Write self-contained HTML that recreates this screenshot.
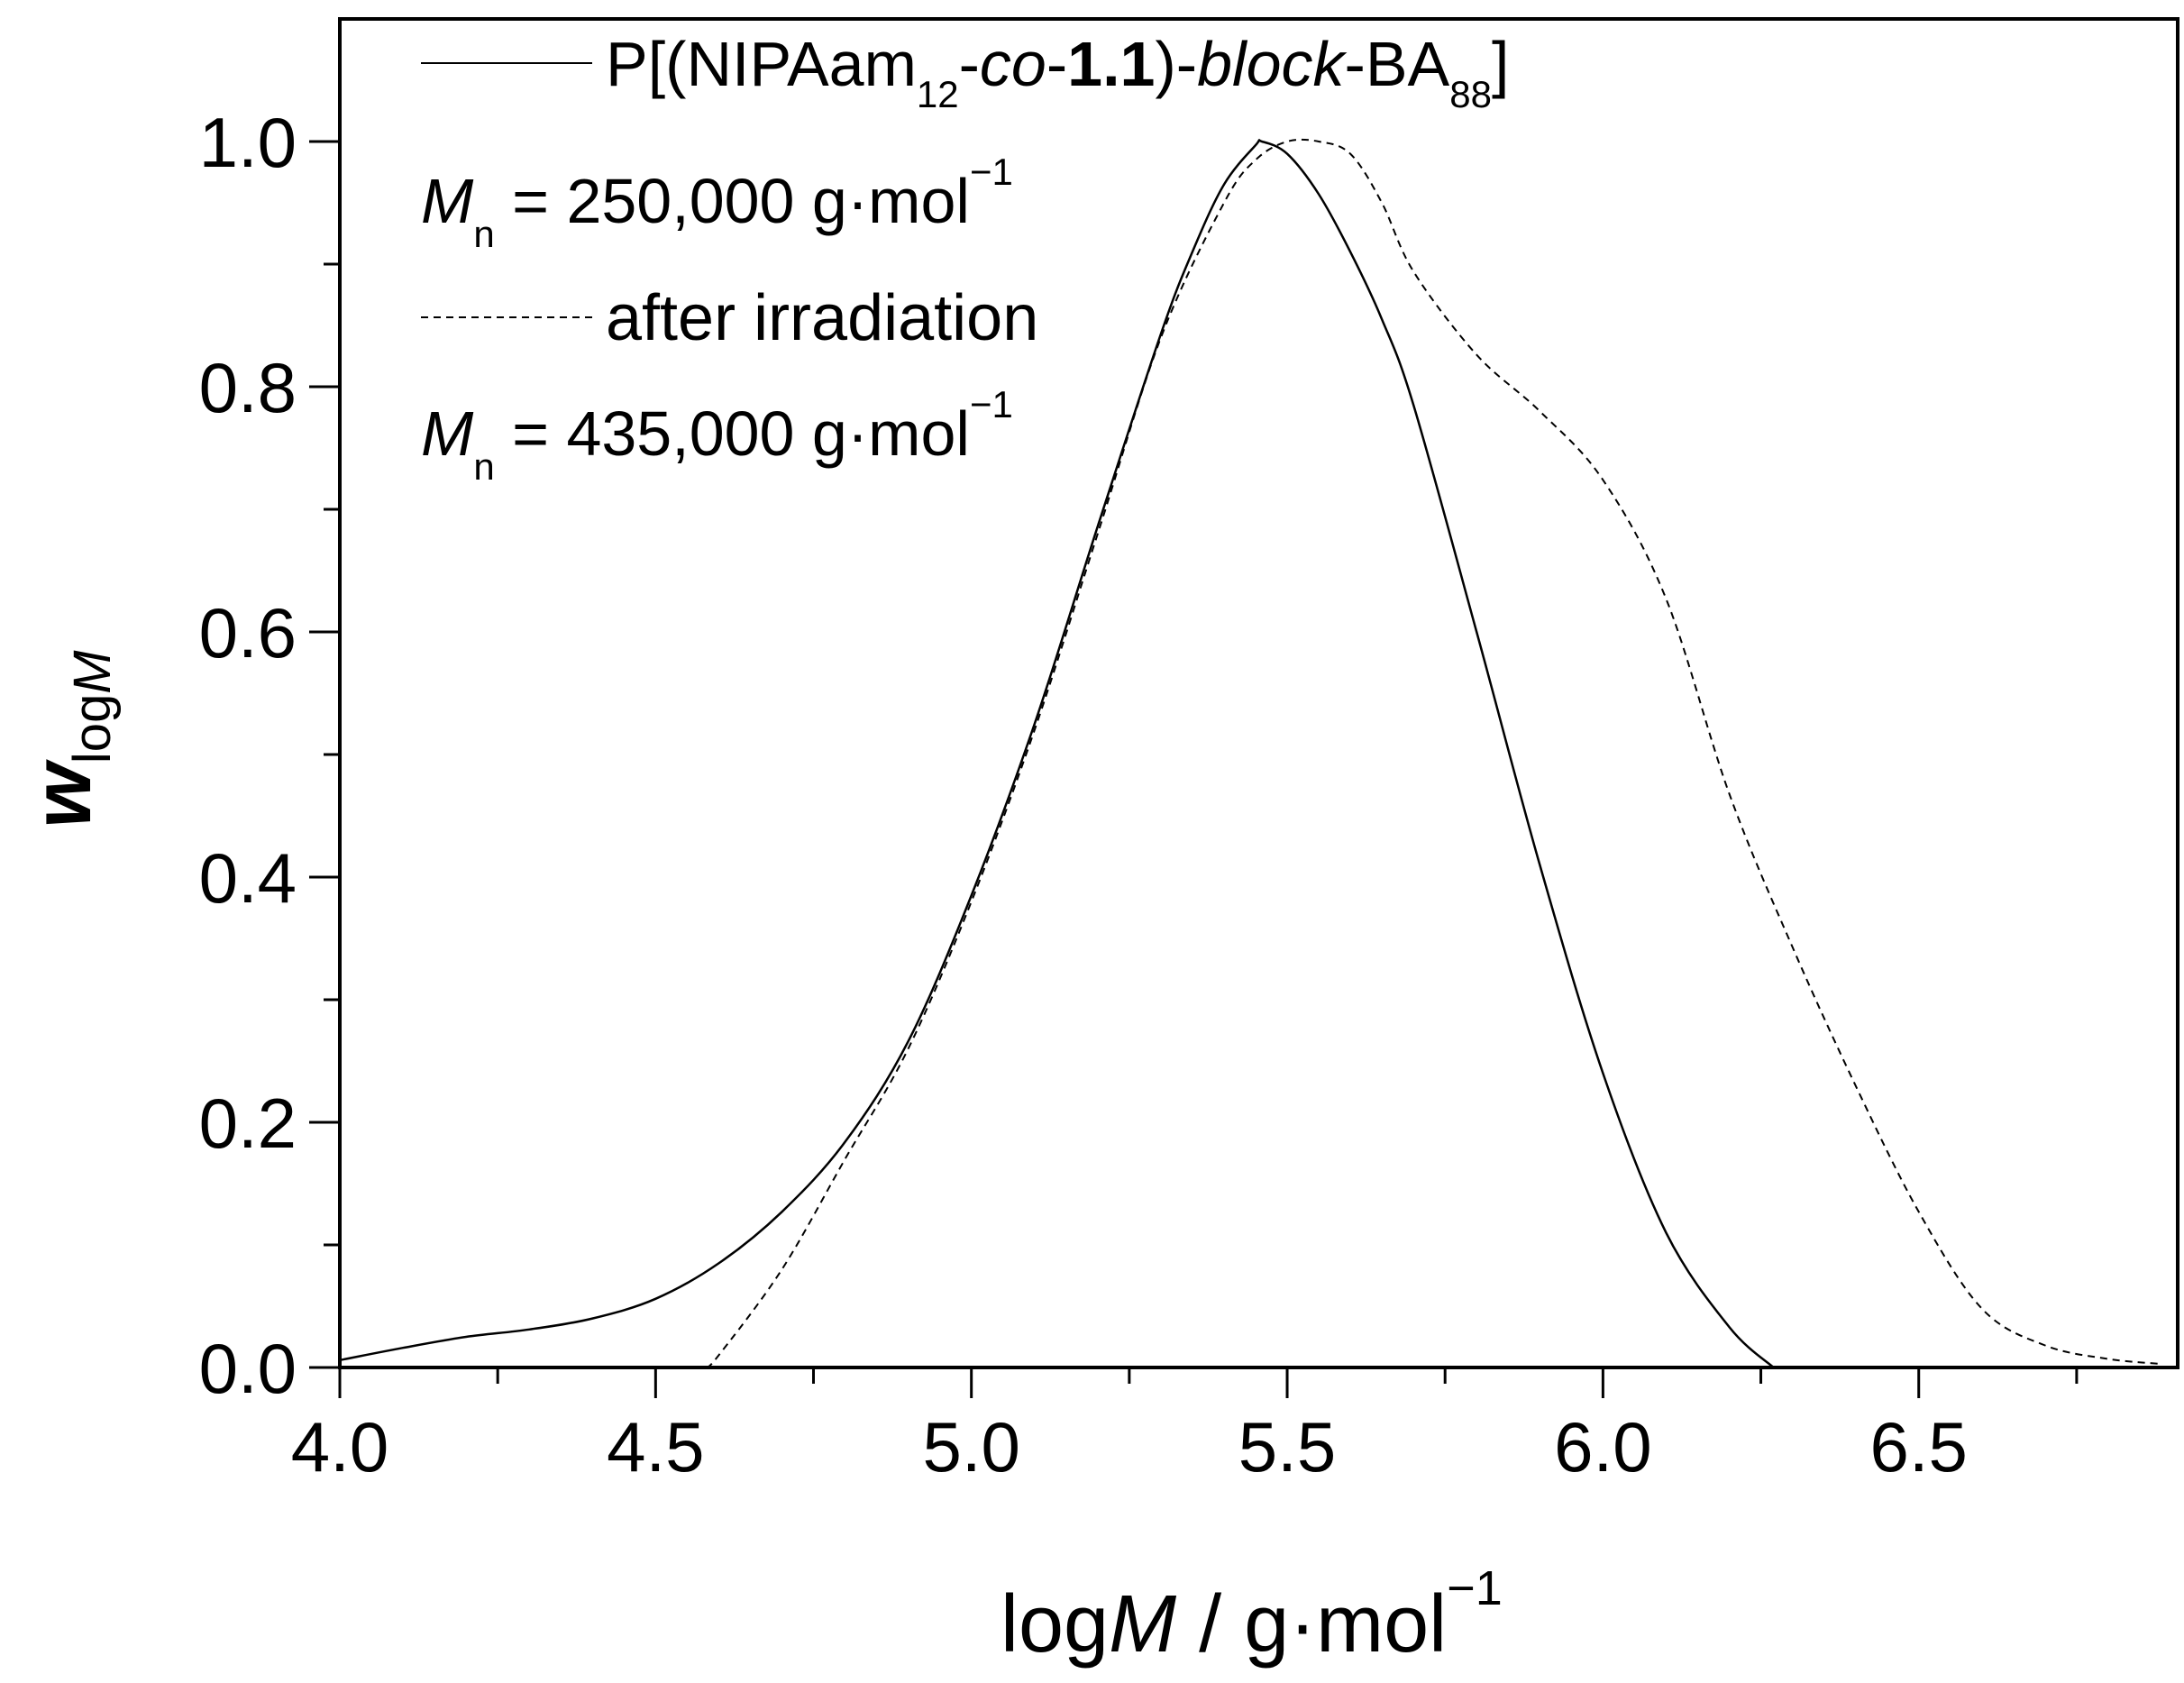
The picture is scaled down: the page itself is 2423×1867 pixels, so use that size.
<!DOCTYPE html>
<html><head><meta charset="utf-8"><style>
html,body{margin:0;padding:0;background:#fff;}
svg text{font-family:"Liberation Sans",sans-serif;fill:#000;}
</style></head><body>
<svg id="chart" width="2423" height="1862" xmlns="http://www.w3.org/2000/svg">
<g id="plot"></g>
<g>
  <line x1="467" y1="70" x2="657" y2="70" stroke="#000" stroke-width="2"/>
  <text x="672" y="95" font-size="70">P[(NIPAam<tspan font-size="42" dy="24">12</tspan><tspan dy="-24">-</tspan><tspan font-style="italic">co</tspan>-<tspan font-weight="bold">1.1</tspan>)-<tspan font-style="italic">block</tspan>-BA<tspan font-size="42" dy="24">88</tspan><tspan dy="-24">]</tspan></text>
  <text x="467" y="247" font-size="70"><tspan font-style="italic">M</tspan><tspan font-size="42" dy="27">n</tspan><tspan dy="-27"> = 250,000 g·mol</tspan><tspan font-size="42" dy="-42">−1</tspan></text>
  <line x1="467" y1="352" x2="657" y2="352" stroke="#000" stroke-width="2" stroke-dasharray="8,6"/>
  <text x="672" y="377" font-size="72">after irradiation</text>
  <text x="467" y="505" font-size="70"><tspan font-style="italic">M</tspan><tspan font-size="42" dy="27">n</tspan><tspan dy="-27"> = 435,000 g·mol</tspan><tspan font-size="42" dy="-42">−1</tspan></text>
</g>
<text x="1110" y="1832" font-size="90">log<tspan font-style="italic">M</tspan> / g·mol<tspan font-size="54" dy="-52">−1</tspan></text>
<text transform="translate(100,820) rotate(-90)" text-anchor="middle" font-size="92"><tspan font-style="italic" font-weight="bold">w</tspan><tspan font-size="58" dy="22">log</tspan><tspan font-size="58" font-style="italic">M</tspan></text>
</svg>
<script>
const xTicks = [4.0, 4.5, 5.0, 5.5, 6.0, 6.5];
const yTicks = [0.0, 0.2, 0.4, 0.6, 0.8, 1.0];
const solidX = [4.0,4.1,4.2,4.3,4.4,4.5,4.6,4.7,4.8,4.9,5.0,5.1,5.2,5.3,5.35,5.4,5.45,5.46,5.5,5.55,5.6,5.65,5.7,5.8,5.9,6.0,6.1,6.2,6.27];
const solidY = [0.006,0.016,0.025,0.031,0.04,0.056,0.085,0.127,0.184,0.266,0.385,0.525,0.686,0.843,0.91,0.965,0.997,1.0,0.99,0.957,0.91,0.855,0.785,0.6,0.41,0.24,0.11,0.033,0.0];
const dashX = [4.58,4.6,4.7,4.8,4.9,5.0,5.1,5.2,5.3,5.4,5.45,5.5,5.55,5.6,5.65,5.7,5.8,5.9,6.0,6.1,6.2,6.3,6.4,6.5,6.6,6.7,6.8,6.88];
const dashY = [0.0,0.01,0.08,0.17,0.26,0.38,0.52,0.68,0.84,0.95,0.985,1.0,1.0,0.99,0.95,0.894,0.826,0.78,0.724,0.627,0.468,0.343,0.23,0.127,0.048,0.018,0.007,0.003];

const L=377,R=2416,T=21,B=1517,XMIN=4.0,XMAX=6.91,YMIN=0,YMAX=1.1;
const sx=v=>L+(v-XMIN)/(XMAX-XMIN)*(R-L);
const sy=v=>B-(v-YMIN)/(YMAX-YMIN)*(B-T);
const NS='http://www.w3.org/2000/svg';
const g=document.getElementById('plot');
function mk(tag,attrs){const e=document.createElementNS(NS,tag);for(const k in attrs)e.setAttribute(k,attrs[k]);g.appendChild(e);return e;}

let e=mk('rect',{x:L,y:T,width:R-L,height:B-T,fill:'none',stroke:'#000','stroke-width':4});



for(let v=4.0;v<=6.9;v+=0.25){
  const major=Math.abs(v*2-Math.round(v*2))<1e-6;
  e=mk('line',{x1:sx(v),y1:B,x2:sx(v),y2:B+(major?34:18),stroke:'#000','stroke-width':3});
  
  
}
xTicks.forEach(v=>{
  e=mk('text',{x:sx(v),y:B+115,'font-size':78,'text-anchor':'middle'});
  e.textContent=v.toFixed(1);
  
  
});
for(let i=0;i<=10;i++){
  const v=i*0.1,major=i%2===0;
  e=mk('line',{x1:L,y1:sy(v),x2:L-(major?34:18),y2:sy(v),stroke:'#000','stroke-width':3});
  
  
}
yTicks.forEach(v=>{
  e=mk('text',{x:L-48,y:sy(v)+28,'font-size':78,'text-anchor':'end'});
  e.textContent=v.toFixed(1);
  
  
});
function path(xs,ys){
  const p=xs.map((x,i)=>[sx(x),sy(ys[i])]);
  let d='M'+p[0][0].toFixed(1)+','+p[0][1].toFixed(1);
  for(let i=0;i<p.length-1;i++){
    const p0=p[Math.max(0,i-1)],p1=p[i],p2=p[i+1],p3=p[Math.min(p.length-1,i+2)];
    const c1=[p1[0]+(p2[0]-p0[0])/6,p1[1]+(p2[1]-p0[1])/6];
    const c2=[p2[0]-(p3[0]-p1[0])/6,p2[1]-(p3[1]-p1[1])/6];
    d+=' C'+c1.map(v=>v.toFixed(1)).join(',')+' '+c2.map(v=>v.toFixed(1)).join(',')+' '+p2.map(v=>v.toFixed(1)).join(',');
  }
  return d;
}
e=mk('path',{d:path(solidX,solidY),fill:'none',stroke:'#000','stroke-width':2.5});


e=mk('path',{d:path(dashX,dashY),fill:'none',stroke:'#000','stroke-width':2,'stroke-dasharray':'8,6'});


</script>
</body></html>
